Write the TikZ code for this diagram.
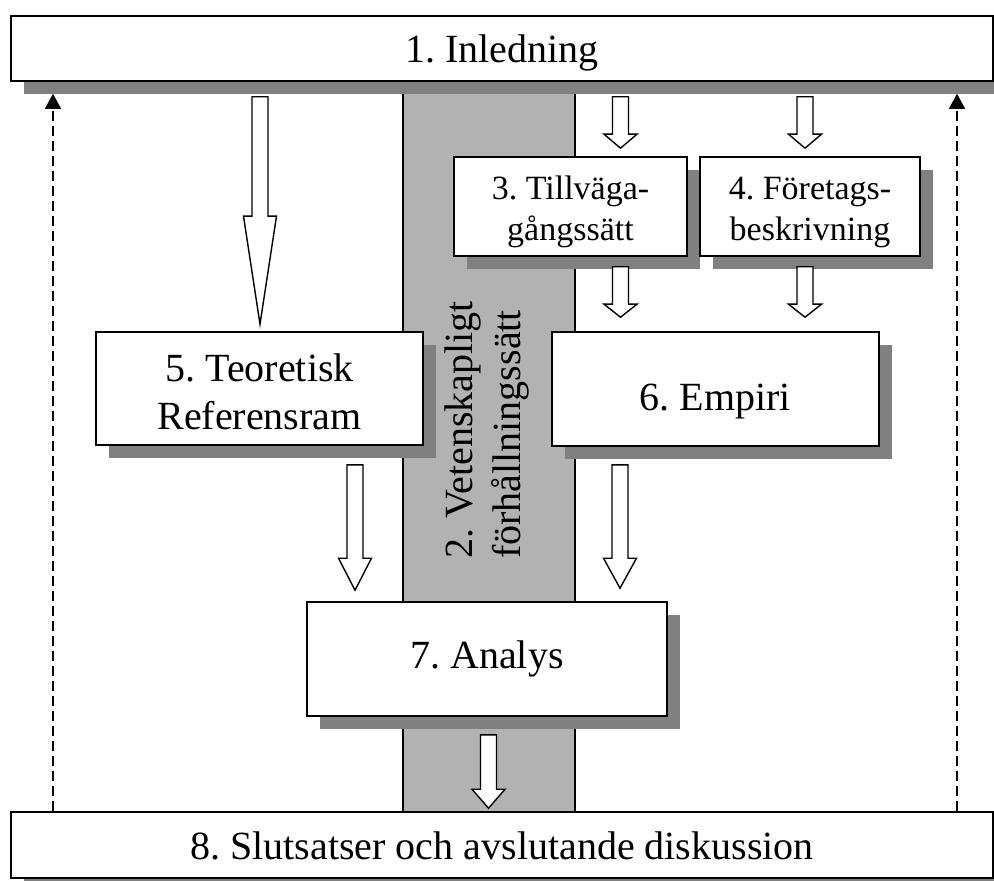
\documentclass[tikz,border=0pt]{standalone}
\usepackage{fontspec}
\setmainfont{Liberation Serif}
\usetikzlibrary{calc,shadows,arrows.meta}

% hollow block arrow: centre x, source node, target node,
% gap below source, gap above target, head length
\newcommand\blockarrow[6]{%
  \draw[hollow] let \p1=(#1,0 |- #2.south), \p2=(#1,0 |- #3.north) in
    (\x1-4pt,\y1-#4) -- (\x1-4pt,\y2+#5+#6) -- (\x1-8.25pt,\y2+#5+#6)
    -- (\x1,\y2+#5) -- (\x1+8.25pt,\y2+#5+#6) -- (\x1+4pt,\y2+#5+#6)
    -- (\x1+4pt,\y1-#4) -- cycle;}

\begin{document}
\frenchspacing
\begin{tikzpicture}[x=0.5pt,y=-0.5pt,
  box/.style={draw, line width=0.8pt, fill=white, inner sep=0pt, align=center,
    font=\fontsize{20}{24}\selectfont,
    drop shadow={shadow xshift=6.5pt, shadow yshift=-6.5pt, fill=black!50, opacity=1}},
  smallbox/.style={box, font=\fontsize{17}{20.4}\selectfont},
  hollow/.style={draw, fill=white, line width=0.7pt, line join=miter},
  feedback/.style={draw, line width=0.6pt, dash pattern=on 5pt off 2.5pt,
    -{Triangle[width=8pt,length=7.5pt]}},
  band/.style={draw, line width=0.6pt, fill=black!30}]

\useasboundingbox (0,0) rectangle (994,881);
\clip (0,0) rectangle (994,881);

% vertical band behind the chapters
\path[band] (403,90) rectangle (575,812);

% chapters
\node[box, minimum width=491pt, minimum height=32.5pt, text height=19pt, text depth=4.5pt]
  (intro) at (502,48.5) {1. Inledning};
\node[smallbox, minimum width=116.5pt, minimum height=49.5pt]
  (method) at (570.5,206.5) {\rule{0pt}{17pt}3. Tillväga-\\gångssätt};
\node[smallbox, minimum width=110pt, minimum height=49.5pt]
  (company) at (810,206.5) {\rule{0pt}{17pt}4. Företags-\\beskrivning};
\node[box, minimum width=163.5pt, minimum height=56.5pt]
  (theory) at (259.5,388.5) {\rule{0pt}{17.5pt}5. Teoretisk\\Referensram};
\node[box, minimum width=163.5pt, minimum height=57pt, text height=25.5pt, text depth=4.5pt]
  (empiri) at (715.5,389) {6. Empiri};
\node[box, minimum width=180pt, minimum height=57pt]
  (analysis) at (487,659) {7. Analys};
\node[box, minimum width=491pt, minimum height=33pt, text height=19pt, text depth=4.5pt]
  (closing) at (502,845) {8. Slutsatser och avslutande diskussion};

% rotated caption of the band
\node[rotate=90, align=left, inner sep=0pt, font=\fontsize{20}{24}\selectfont]
  (stance) at (487,430) {2. Vetenskapligt\\förhållningssätt};

% flow between chapters
\blockarrow{260}{intro}{theory}{7.5pt}{3.5pt}{54pt}
\blockarrow{620.5}{intro}{method}{7.5pt}{4pt}{7pt}
\blockarrow{805}{intro}{company}{7.5pt}{4pt}{7pt}
\blockarrow{620.5}{method}{empiri}{5pt}{7pt}{6.5pt}
\blockarrow{805}{company}{empiri}{5pt}{7pt}{6.5pt}
\blockarrow{355}{theory}{analysis}{9.5pt}{5.5pt}{16pt}
\blockarrow{620}{empiri}{analysis}{9pt}{6.5pt}{15pt}
\blockarrow{488.5}{analysis}{closing}{9pt}{1.5pt}{9.5pt}

% feedback from the conclusions to the introduction
\draw[feedback] (53,0 |- closing.north) -- ($(53,0 |- intro.south)+(0,-6pt)$);
\draw[feedback] (957,0 |- closing.north) -- ($(957,0 |- intro.south)+(0,-6pt)$);
\end{tikzpicture}
\end{document}
